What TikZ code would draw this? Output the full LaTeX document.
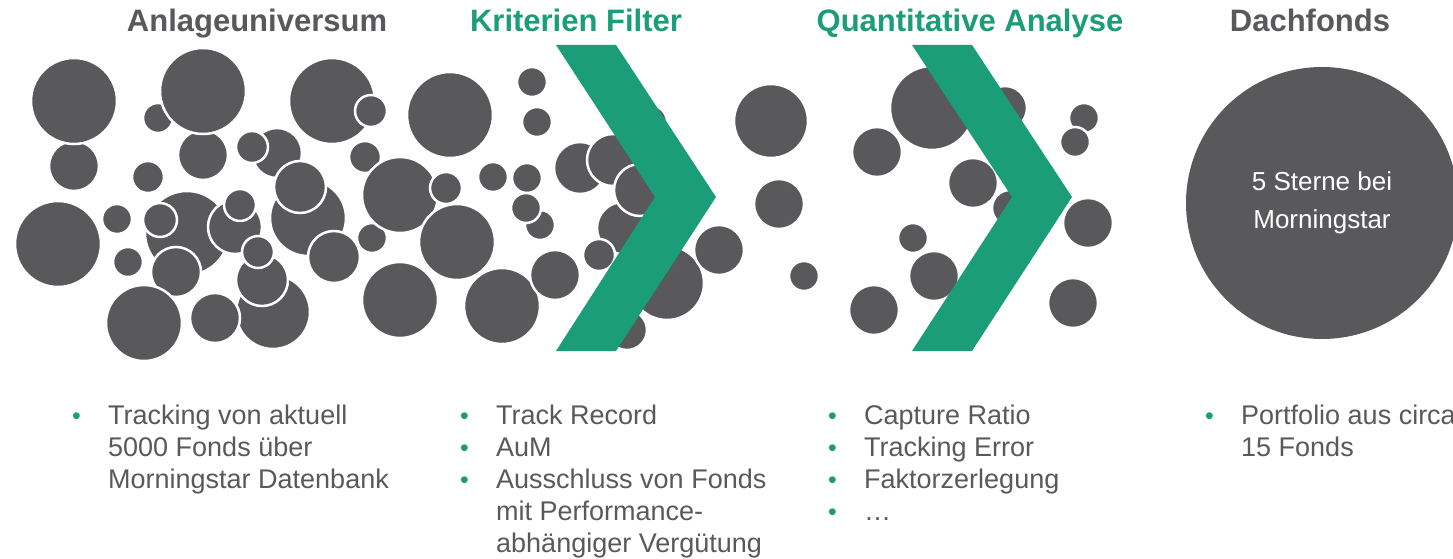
\documentclass[tikz,border=0pt]{standalone}
\usepackage{fontspec}
\setmainfont{Liberation Sans}
\definecolor{hkgrey}{RGB}{89,89,91}
\definecolor{hkgreen}{RGB}{26,157,120}
\newcommand{\bul}{\textcolor{hkgreen}{\fontsize{25}{25}\selectfont\textbullet}}

\begin{document}
\begin{tikzpicture}[x=1pt,y=-1pt,
            bubble/.style={fill=hkgrey,draw=white,line width=2.5pt},
            chevron/.style={fill=hkgreen},
            title/.style={anchor=base,font=\bfseries\fontsize{31}{37}\selectfont},
            list/.style={anchor=base west,inner sep=0pt,text=hkgrey,font=\fontsize{27}{32}\selectfont},
            dach node/.style={circle,fill=hkgrey,minimum size=272pt,inner sep=0pt,text=white,align=center,font=\fontsize{26}{38}\selectfont}]
            \useasboundingbox (0,0) rectangle (1453,559);
            % titles
            \node[title,text=hkgrey] (tUniv) at (257,32) {Anlageuniversum};
            \node[title,text=hkgreen] (tFilter) at (576,32) {Kriterien Filter};
            \node[title,text=hkgreen] (tQuant) at (970,32) {Quantitative Analyse};
            \node[title,text=hkgrey] (tDach) at (1310,32) {Dachfonds};
            % fund bubbles, back to front
            \foreach \px/\py/\rad in {
                74/166/25, 74/101/43, 158/118/15, 203/155/25, 203/91/43, 148/177/16,
                58/244/43, 117/219/15, 128/262/15, 187/233/42, 160/220/17, 176/272/25,
                273/312/37, 144/323/38, 215/318/25, 262/280/26, 235/227/27, 240/205/16,
                258/252/16, 277/153/25, 252/147/16, 308/218/38, 300/187/26, 334/257/26,
                332/101/43, 371/111/16, 365/157/16, 372/238/15, 400/195/38, 400/300/38,
                450/115/43, 457/242/38, 446/188/16, 493/177/15, 527/178/15, 540/225/15,
                526/208/15, 502/306/38, 555/275/25, 532/82/15, 537/122/15, 580/168/26,
                650/122/17, 613/160/26, 623/228/26, 640/190/26, 599/255/16, 627/330/20,
                667/283/37, 719/250/25, 771/121/37, 779/204/25, 804/276/15,
                877/152/25, 932/108/42, 1005/108/22, 973/183/25, 1010/208/18, 913/238/15,
                934/276/25, 874/310/25, 1084/118/15, 1075/142/15, 1088/223/25, 1073/303/25}
                \path[bubble] (\px,\py) circle (\rad pt);
            % filter chevrons
            \fill[chevron] (556,45) -- (616,45) -- (716,197) -- (616,351) -- (556,351) -- (655,197) -- cycle;
            \fill[chevron] (912,45) -- (972,45) -- (1072,197) -- (972,351) -- (912,351) -- (1012,197) -- cycle;
            \node[dach node] (dach) at (1322,203) {5 Sterne bei\\ Morningstar};
            % bullet lists
            \node[list] (lUniv) at (72,424) {\begin{tabular}[t]{@{}p{36pt}@{}l@{}}
                \bul & Tracking von aktuell\\ & 5000 Fonds über\\ & Morningstar Datenbank\end{tabular}};
            \node[list] (lFilter) at (460,424) {\begin{tabular}[t]{@{}p{36pt}@{}l@{}}
                \bul & Track Record\\ \bul & AuM\\ \bul & Ausschluss von Fonds\\ & mit Performance-\\ & abhängiger Vergütung\end{tabular}};
            \node[list] (lQuant) at (828,424) {\begin{tabular}[t]{@{}p{36pt}@{}l@{}}
                \bul & Capture Ratio\\ \bul & Tracking Error\\ \bul & Faktorzerlegung\\ \bul & …\end{tabular}};
            \node[list] (lDach) at (1205,424) {\begin{tabular}[t]{@{}p{36pt}@{}l@{}}
                \bul & Portfolio aus circa\\ & 15 Fonds\end{tabular}};
        \end{tikzpicture}
\end{document}
